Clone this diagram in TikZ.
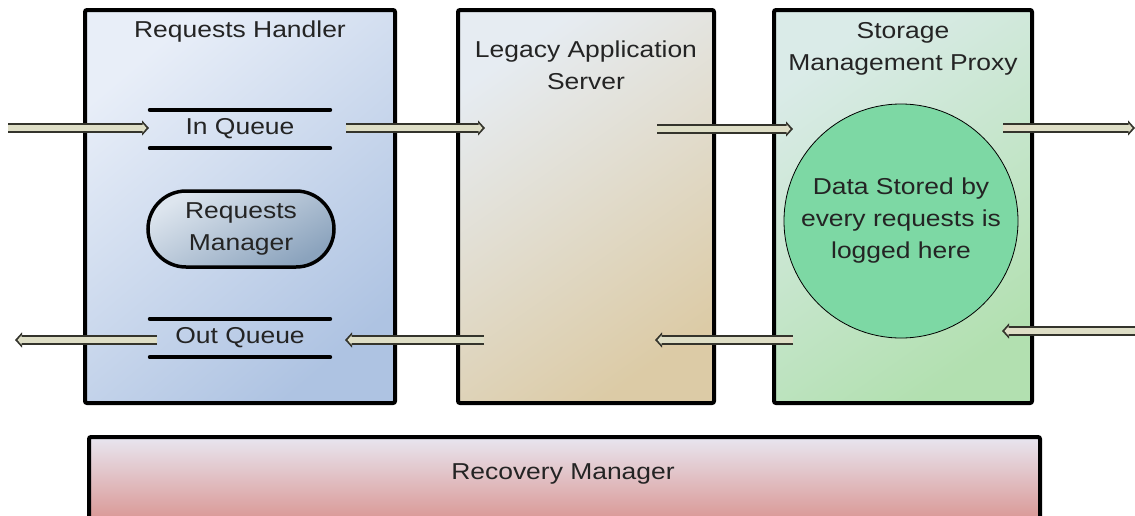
\documentclass[tikz,border=0pt]{standalone}
\usepackage{fontspec}
\setmainfont{Liberation Sans}[FakeStretch=1.15]
\usetikzlibrary{arrows.meta,shapes.misc,shadows}

\definecolor{rhLight}{HTML}{E8EEF8}
\definecolor{rhDark}{HTML}{AEC3E2}
\definecolor{laLight}{HTML}{E6ECF2}
\definecolor{laDark}{HTML}{DCCBA6}
\definecolor{smLight}{HTML}{DAEBE8}
\definecolor{smDark}{HTML}{B2E0B0}
\definecolor{rmLight}{HTML}{E8E6F0}
\definecolor{rmDark}{HTML}{D88E8A}
\definecolor{mgrLight}{HTML}{DDE5EE}
\definecolor{mgrDark}{HTML}{8BA3BD}
\definecolor{logFill}{HTML}{7DD8A4}
\definecolor{pipeFill}{HTML}{DEDEC6}
\definecolor{pipeEdge}{HTML}{34342C}
\definecolor{txt}{HTML}{242424}

\tikzset{
  tier/.style={draw=black, line width=4pt, rounded corners=2pt, inner sep=0pt,
    drop shadow={opacity=0.25, shadow xshift=1.5pt, shadow yshift=-1.5pt}},
  lbl/.style={text=txt, font=\fontsize{23}{32}\selectfont, align=center, inner sep=0pt},
  queue/.style={minimum width=184pt, minimum height=38pt, inner sep=0pt},
  queueLine/.style={line width=4pt, line cap=round, draw=black},
  pipe/.style={line width=10pt, draw=pipeEdge, -{Triangle[length=7pt,width=15pt]},
    postaction={draw=pipeFill, line width=5.5pt, shorten >=2.5pt,
      -{Triangle[length=4pt,width=9pt]}}},
}

\begin{document}
\begin{tikzpicture}[x=1pt, y=-1pt]
\useasboundingbox (0,0) rectangle (1135,515);

% three tiers
\node[tier, minimum width=310pt, minimum height=393pt,
      top color=rhLight, bottom color=rhDark, shading angle=40] (rh) at (240,206.5) {};
\node[tier, minimum width=256pt, minimum height=393pt,
      top color=laLight, bottom color=laDark, shading angle=35] (la) at (586,206.5) {};
\node[tier, minimum width=258pt, minimum height=393pt,
      top color=smLight, bottom color=smDark, shading angle=35] (sm) at (903,206.5) {};

% recovery strip along the bottom
\node[tier, minimum width=951pt, minimum height=93pt,
      top color=rmLight, bottom color=rmDark] (rm) at (564.5,483.5) {};

% titles
\node[lbl] (rhTitle) at (240,32) {Requests Handler};
\node[lbl] (laTitle) at (586,65) {Legacy Application\\Server};
\node[lbl] (smTitle) at (903,49) {Storage\\Management Proxy};
\node[lbl] (rmTitle) at (563,474) {Recovery Manager};

% queues
\node[queue, lbl] (inq) at (240,129) {In Queue};
\draw[queueLine] ([xshift=2pt]inq.north west) -- ([xshift=-2pt]inq.north east);
\draw[queueLine] ([xshift=2pt]inq.south west) -- ([xshift=-2pt]inq.south east);
\node[queue, lbl] (outq) at (240,338) {Out Queue};
\draw[queueLine] ([xshift=2pt]outq.north west) -- ([xshift=-2pt]outq.north east);
\draw[queueLine] ([xshift=2pt]outq.south west) -- ([xshift=-2pt]outq.south east);

% manager
\node[rounded rectangle, draw=black, line width=3.5pt, minimum width=186pt, minimum height=76pt,
      top color=mgrLight, bottom color=mgrDark, shading angle=30,
      lbl] (mgr) at (241,229) {Requests\\Manager};

% log store
\node[circle, draw=black, line width=0.8pt, fill=logFill, minimum size=234pt, inner sep=0pt] (log) at (901,221) {};
\node[lbl] (logText) at (log.center) {Data Stored by\\every requests is\\logged here};

% pipe end points
\coordinate (inSrc) at (8,128);
\coordinate (inDst) at (149,128);
\coordinate (fwdA) at (346,128);
\coordinate (fwdB) at (485,128);
\coordinate (fwdC) at (657,129);
\coordinate (fwdD) at (793,129);
\coordinate (fwdE) at (1003,128);
\coordinate (fwdF) at (1135,128);
\coordinate (backF) at (1135,331);
\coordinate (backE) at (1002,331);
\coordinate (backD) at (793,340);
\coordinate (backC) at (655,340);
\coordinate (backB) at (484,340);
\coordinate (backA) at (345,340);
\coordinate (outSrc) at (157,340);
\coordinate (outDst) at (15,340);

% request flow
\draw[pipe] (inSrc) -- (inDst);
\draw[pipe] (fwdA) -- (fwdB);
\draw[pipe] (fwdC) -- (fwdD);
\draw[pipe] (fwdE) -- (fwdF);
% response flow
\draw[pipe] (backF) -- (backE);
\draw[pipe] (backD) -- (backC);
\draw[pipe] (backB) -- (backA);
\draw[pipe] (outSrc) -- (outDst);
\end{tikzpicture}
\end{document}
